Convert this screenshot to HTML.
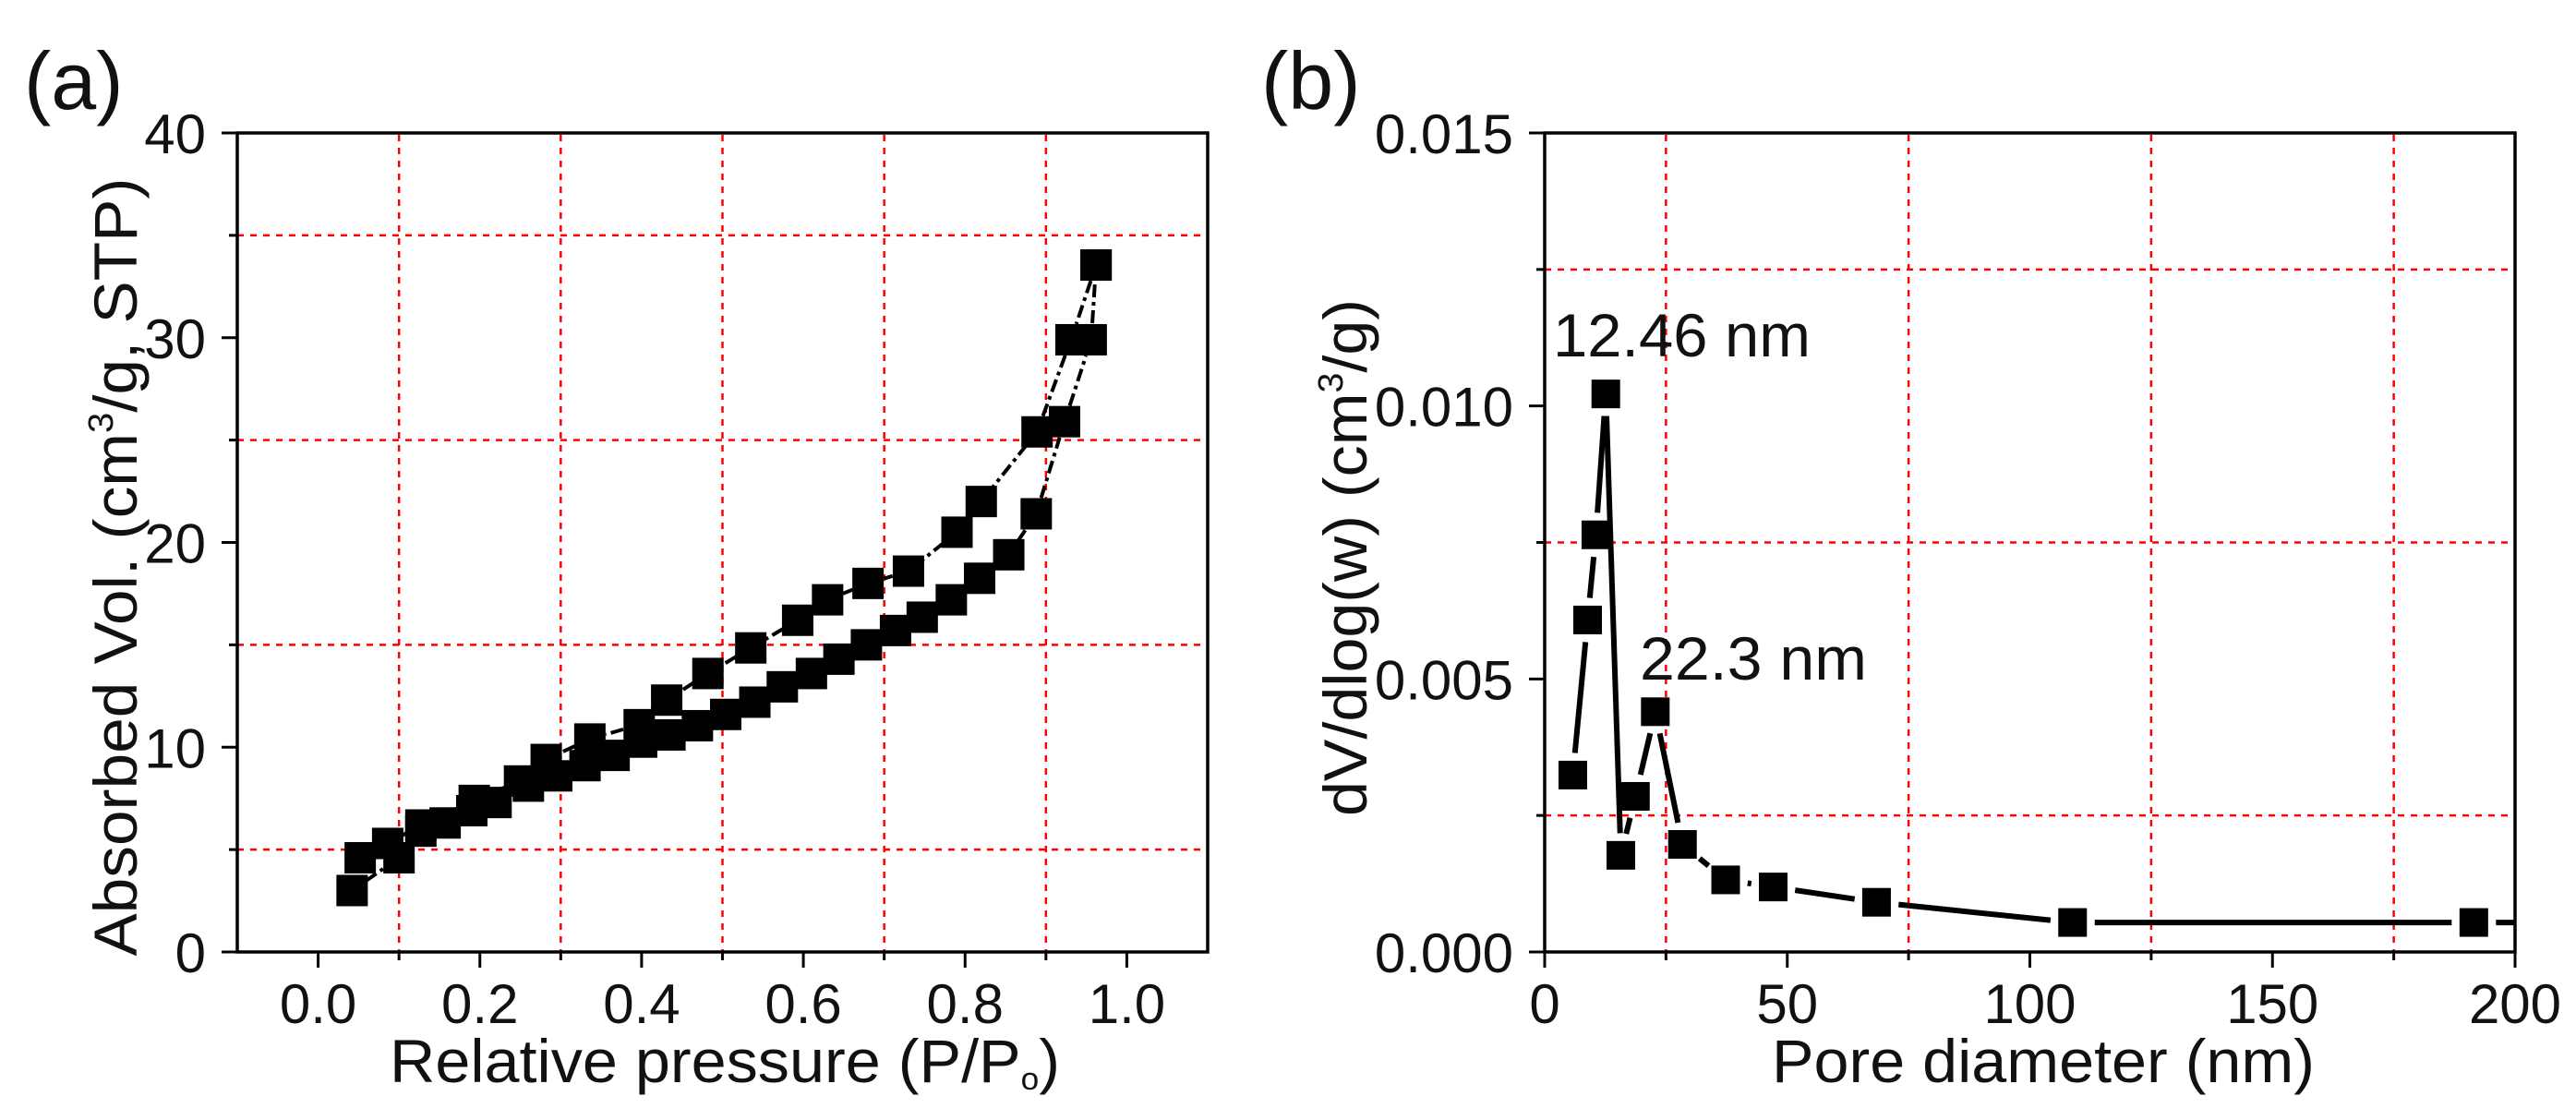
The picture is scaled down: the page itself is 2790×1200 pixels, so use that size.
<!DOCTYPE html>
<html><head><meta charset="utf-8"><style>
html,body{margin:0;padding:0;background:#fff;}
svg{display:block;font-family:"Liberation Sans",Arial,sans-serif;}
</style></head><body>
<svg id="chart" width="2790" height="1200" viewBox="0 0 2790 1200"></svg>
<script>
// ---- Panel (a) data ----
const aAdsX = [0.042,0.10,0.127,0.157,0.19,0.22,0.26,0.295,0.33,0.366,0.40,0.435,0.469,0.504,0.54,0.574,0.61,0.644,0.678,0.714,0.747,0.783,0.818,0.854,0.888,0.923,0.956,0.962];
const aAdsY = [3.0,4.6,5.9,6.3,6.9,7.3,8.1,8.6,9.1,9.6,10.25,10.6,11.05,11.6,12.2,12.95,13.6,14.3,15.0,15.7,16.35,17.2,18.25,19.4,21.4,25.9,29.9,33.55];
const aDesX = [0.962,0.931,0.889,0.82,0.79,0.73,0.68,0.63,0.593,0.535,0.482,0.431,0.397,0.336,0.282,0.249,0.193,0.127,0.086,0.052];
const aDesY = [33.55,29.9,25.4,22.0,20.5,18.6,18.0,17.2,16.2,14.85,13.6,12.3,11.1,10.4,9.4,8.35,7.4,6.2,5.3,4.6];
const aXTicks = [0,0.2,0.4,0.6,0.8,1.0];
const aXTickLabels = ["0.0","0.2","0.4","0.6","0.8","1.0"];
const aYTicks = [0,10,20,30,40];
const aYTickLabels = ["0","10","20","30","40"];
const aXGrid = [0.1,0.3,0.5,0.7,0.9];
const aYGrid = [5,15,25,35];
// ---- Panel (b) data ----
const bX = [5.8,8.85,10.55,12.6,15.7,18.7,22.8,28.4,37.3,47.1,68.4,108.8,191.5,300];
const bY = [0.00324,0.00608,0.00764,0.01022,0.00177,0.00285,0.0044,0.00197,0.00132,0.00119,0.00091,0.00054,0.00054,0.00054];
const bXTicks = [0,50,100,150,200];
const bXTickLabels = ["0","50","100","150","200"];
const bYTicks = [0,0.005,0.010,0.015];
const bYTickLabels = ["0.000","0.005","0.010","0.015"];
const bXGrid = [25,75,125,175];
const bYGrid = [0.0025,0.0075,0.0125];

const NS="http://www.w3.org/2000/svg";
const svg=document.getElementById('chart');
function mk(tag,attrs,parent){const e=document.createElementNS(NS,tag);for(const k in attrs)e.setAttribute(k,attrs[k]);(parent||svg).appendChild(e);return e;}

function panel(o){
  const sx=v=>o.L+(v-o.x0)/(o.x1-o.x0)*(o.R-o.L);
  const sy=v=>o.B-(v-o.y0)/(o.y1-o.y0)*(o.B-o.T);
  const g=mk('g',{});
  
  
  const clipId=o.name+'-clip';
  const cp=mk('clipPath',{id:clipId},g);
  mk('rect',{x:o.L,y:o.T,width:o.R-o.L,height:o.B-o.T},cp);
  // grid
  o.xGrid.forEach(v=>{const l=mk('line',{x1:sx(v),x2:sx(v),y1:o.T+2,y2:o.B,stroke:'#ff0000','stroke-width':2.5,'stroke-dasharray':'7 7'},g);
    });
  o.yGrid.forEach(v=>{const l=mk('line',{x1:o.L,x2:o.R-8,y1:sy(v),y2:sy(v),stroke:'#ff0000','stroke-width':2.5,'stroke-dasharray':'7 7'},g);
    
    const t=mk('line',{x1:o.L-9,x2:o.L,y1:sy(v),y2:sy(v),stroke:'#000','stroke-width':3},g);
    });
  o.xGrid.forEach(v=>{const t=mk('line',{x1:sx(v),x2:sx(v),y1:o.B,y2:o.B+9,stroke:'#000','stroke-width':3},g);
    });
  // series
  o.series.forEach(s=>{
    const sg=mk('g',{'clip-path':'url(#'+clipId+')'},g);
    
    
    const px=s.x.map(sx), py=s.y.map(sy);
    for(let i=0;i<px.length-1;i++){
      const dx=px[i+1]-px[i], dy=py[i+1]-py[i], d=Math.hypot(dx,dy);
      const gap=s.gap; if(d<=2*gap) continue;
      const ux=dx/d, uy=dy/d;
      const l=mk('line',{x1:px[i]+ux*gap,y1:py[i]+uy*gap,x2:px[i+1]-ux*gap,y2:py[i+1]-uy*gap,stroke:'#000','stroke-width':s.lw,'stroke-dasharray':s.dash||'none'},sg);
      
      
    }
    px.forEach((x,i)=>{const r=mk('rect',{x:x-s.ms/2,y:py[i]-s.ms/2,width:s.ms,height:s.ms,fill:'#000'},sg);
      });
  });
  // axes frame
  const fr=mk('rect',{x:o.L,y:o.T,width:o.R-o.L,height:o.B-o.T,fill:'none',stroke:'#000','stroke-width':3.5},g);
  
  o.xTicks.forEach((v,i)=>{
    const t=mk('line',{x1:sx(v),x2:sx(v),y1:o.B,y2:o.B+17,stroke:'#000','stroke-width':3},g);
    
    const tx=mk('text',{x:sx(v),y:o.B+77,'font-size':60,'text-anchor':'middle',fill:'#111'},g);
    tx.textContent=o.xLabels[i];
    
  });
  o.yTicks.forEach((v,i)=>{
    const t=mk('line',{x1:o.L-17,x2:o.L,y1:sy(v),y2:sy(v),stroke:'#000','stroke-width':3},g);
    
    const tx=mk('text',{x:o.L-34,y:sy(v)+22,'font-size':60,'text-anchor':'end',fill:'#111'},g);
    tx.textContent=o.yLabels[i];
    
  });
  return {sx,sy};
}

panel({name:'panel-a',L:257,R:1308,T:144,B:1031,x0:-0.1,x1:1.1,y0:0,y1:40,
  xGrid:aXGrid,yGrid:aYGrid,xTicks:aXTicks,xLabels:aXTickLabels,yTicks:aYTicks,yLabels:aYTickLabels,
  series:[
    {name:'adsorption-series',x:aAdsX,y:aAdsY,ms:34,lw:4,gap:18,dash:'14 5 4 5'},
    {name:'desorption-series',x:aDesX,y:aDesY,ms:34,lw:4,gap:18,dash:'14 5 4 5'}
  ]});
panel({name:'panel-b',L:1673,R:2724,T:144,B:1031,x0:0,x1:200,y0:0,y1:0.015,
  xGrid:bXGrid,yGrid:bYGrid,xTicks:bXTicks,xLabels:bXTickLabels,yTicks:bYTicks,yLabels:bYTickLabels,
  series:[{name:'pore-distribution-series',x:bX,y:bY,ms:31,lw:6,gap:24}]});
</script>
<svg width="0" height="0" style="position:absolute"></svg>
<script>
const s2=document.getElementById('chart');
s2.insertAdjacentHTML('beforeend',`
<text x="26" y="118" font-size="88" fill="#111">(a)</text>
<text x="1366" y="118" font-size="88" fill="#111">(b)</text>
<text x="785" y="1172" font-size="66" text-anchor="middle" textLength="726" lengthAdjust="spacingAndGlyphs" fill="#111">Relative pressure (P/P<tspan font-size="34" dy="8">o</tspan><tspan dy="-8">)</tspan></text>
<text transform="translate(148,614) rotate(-90)" font-size="66" text-anchor="middle" textLength="843" lengthAdjust="spacingAndGlyphs" fill="#111">Absorbed Vol. (cm<tspan font-size="38" dy="-26">3</tspan><tspan dy="26">/g, STP)</tspan></text>
<text x="2213" y="1172" font-size="66" text-anchor="middle" textLength="588" lengthAdjust="spacingAndGlyphs" fill="#111">Pore diameter (nm)</text>
<text transform="translate(1480,604) rotate(-90)" font-size="66" text-anchor="middle" textLength="560" lengthAdjust="spacingAndGlyphs" fill="#111">dV/dlog(w) (cm<tspan font-size="38" dy="-26">3</tspan><tspan dy="26">/g)</tspan></text>
<text x="1682" y="386" font-size="66" textLength="279" lengthAdjust="spacingAndGlyphs" fill="#111">12.46 nm</text>
<text x="1776" y="736" font-size="66" textLength="246" lengthAdjust="spacingAndGlyphs" fill="#111">22.3 nm</text>
`);
</script>
</body></html>
